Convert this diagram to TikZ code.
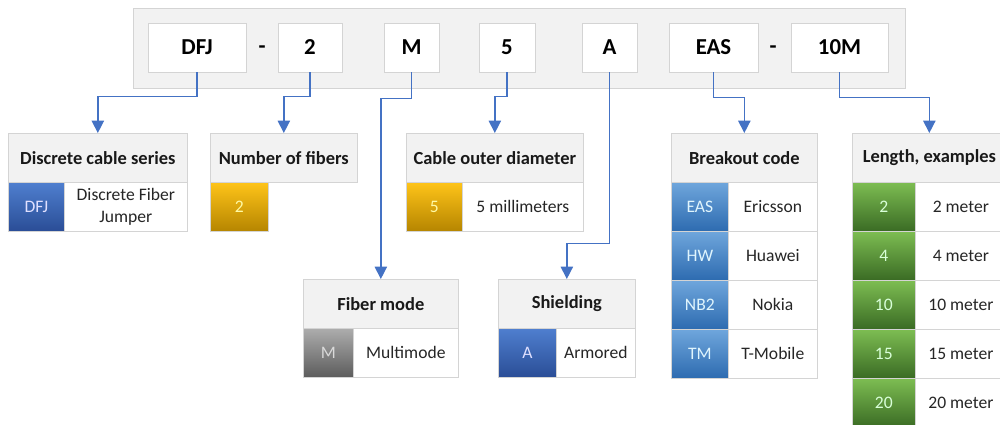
\documentclass[tikz,border=0pt]{standalone}
\usepackage{fontspec}
\setmainfont{Carlito}
\usetikzlibrary{arrows.meta}

\definecolor{linkblue}{HTML}{4472C4}
\definecolor{framegray}{HTML}{F2F2F2}
\definecolor{edgegray}{HTML}{D4D4D4}
\definecolor{bodytext}{HTML}{262626}
\definecolor{navytop}{HTML}{4F7FCF}
\definecolor{navybot}{HTML}{2A4D96}
\definecolor{goldtop}{HTML}{FFC419}
\definecolor{goldbot}{HTML}{B58500}
\definecolor{graytop}{HTML}{ADADAD}
\definecolor{graybot}{HTML}{5C5C5C}
\definecolor{skytop}{HTML}{6FA6DC}
\definecolor{skybot}{HTML}{2D6BB0}
\definecolor{greentop}{HTML}{7DBD52}
\definecolor{greenbot}{HTML}{3A6B24}

\tikzset{
  frame/.style={rectangle,draw=edgegray,fill=framegray,anchor=north west,minimum width=15.44cm,minimum height=1.6cm,inner sep=0pt},
  codebox/.style={rectangle,draw=edgegray,fill=white,font=\fontsize{13}{15}\selectfont\bfseries,minimum height=0.98cm,inner sep=0pt},
  sepmark/.style={anchor=base,font=\fontsize{13}{15}\selectfont\bfseries,inner sep=0pt},
  headbox/.style={rectangle,draw=edgegray,fill=framegray,anchor=north west,font=\fontsize{10.5}{12}\selectfont\bfseries,text=black!90,minimum height=0.98cm,inner sep=0pt},
  cellbox/.style={rectangle,draw=edgegray,fill=white,anchor=north west,font=\fontsize{10}{12.5}\selectfont,text=bodytext,align=center,minimum height=0.98cm,inner sep=0pt},
  tagbox/.style={rectangle,draw=edgegray,anchor=north west,font=\fontsize{10}{12}\selectfont,minimum height=0.98cm,inner sep=0pt},
  tagnavy/.style={tagbox,top color=navytop,bottom color=navybot,text=blue!12!white},
  taggold/.style={tagbox,top color=goldtop,bottom color=goldbot,text=yellow!35!white},
  taggray/.style={tagbox,top color=graytop,bottom color=graybot,text=black!15},
  tagsky/.style={tagbox,top color=skytop,bottom color=skybot,text=cyan!12!white},
  taggreen/.style={tagbox,top color=greentop,bottom color=greenbot,text=green!15!white},
  link/.style={draw=linkblue,line width=0.8pt,-{Triangle[width=7pt,length=7pt]}}
}

\begin{document}
\begin{tikzpicture}[x=0.02cm,y=-0.02cm]
\useasboundingbox (0,0) rectangle (1000,425);

% code line
\node[frame] (frame) at (133,8) {};
\node[codebox,minimum width=1.96cm] (dfj) at (197,47.5) {DFJ};
\node[sepmark] (dash1) at (262,54) {-};
\node[codebox,minimum width=1.28cm] (fib) at (310,47.5) {2};
\node[codebox,minimum width=1.1cm] (mode) at (411.5,47.5) {M};
\node[codebox,minimum width=1.12cm] (dia) at (507,47.5) {5};
\node[codebox,minimum width=1.1cm] (shld) at (609.5,47.5) {A};
\node[codebox,minimum width=1.78cm] (brk) at (713.5,47.5) {EAS};
\node[sepmark] (dash2) at (773,54) {-};
\node[codebox,minimum width=1.94cm] (len) at (839.5,47.5) {10M};

% series
\node[headbox,minimum width=3.58cm] (serieshead) at (8,133) {Discrete cable series};
\node[tagnavy,minimum width=1.12cm] (seriestag) at (8,182) {DFJ};
\node[cellbox,minimum width=2.46cm] (seriestext) at (64,182) {Discrete Fiber\\Jumper};

% fibers
\node[headbox,minimum width=2.94cm] (fibhead) at (210,133) {Number of fibers};
\node[taggold,minimum width=1.16cm] (fibtag) at (210,182) {2};

% diameter
\node[headbox,minimum width=3.54cm] (diahead) at (406,133) {Cable outer diameter};
\node[taggold,minimum width=1.12cm] (diatag) at (406,182) {5};
\node[cellbox,minimum width=2.42cm] (diatext) at (462,182) {5 millimeters};

% fiber mode
\node[headbox,minimum width=3.1cm] (modehead) at (303,279) {Fiber mode};
\node[taggray,minimum width=1.0cm] (modetag) at (303,328) {M};
\node[cellbox,minimum width=2.1cm] (modetext) at (353,328) {Multimode};

% shielding
\node[headbox,minimum width=2.74cm] (shldhead) at (498,279) {Shielding};
\node[tagnavy,minimum width=1.16cm] (shldtag) at (498,328) {A};
\node[cellbox,minimum width=1.58cm] (shldtext) at (556,328) {Armored};

% breakout
\node[headbox,minimum width=2.92cm] (brkhead) at (671,133) {Breakout code};
\node[tagsky,minimum width=1.14cm] (brktag1) at (671,182) {EAS};
\node[cellbox,minimum width=1.78cm] (brktext1) at (728,182) {Ericsson};
\node[tagsky,minimum width=1.14cm] (brktag2) at (671,231) {HW};
\node[cellbox,minimum width=1.78cm] (brktext2) at (728,231) {Huawei};
\node[tagsky,minimum width=1.14cm] (brktag3) at (671,280) {NB2};
\node[cellbox,minimum width=1.78cm] (brktext3) at (728,280) {Nokia};
\node[tagsky,minimum width=1.14cm] (brktag4) at (671,329) {TM};
\node[cellbox,minimum width=1.78cm] (brktext4) at (728,329) {T-Mobile};

% length
\node[headbox,minimum width=3.08cm] (lenhead) at (852,133) {Length, examples};
\node[taggreen,minimum width=1.26cm] (lentag1) at (852,182) {2};
\node[cellbox,minimum width=1.82cm] (lentext1) at (915,182) {2 meter};
\node[taggreen,minimum width=1.26cm] (lentag2) at (852,231) {4};
\node[cellbox,minimum width=1.82cm] (lentext2) at (915,231) {4 meter};
\node[taggreen,minimum width=1.26cm] (lentag3) at (852,280) {10};
\node[cellbox,minimum width=1.82cm] (lentext3) at (915,280) {10 meter};
\node[taggreen,minimum width=1.26cm] (lentag4) at (852,329) {15};
\node[cellbox,minimum width=1.82cm] (lentext4) at (915,329) {15 meter};
\node[taggreen,minimum width=1.26cm] (lentag5) at (852,378) {20};
\node[cellbox,minimum width=1.82cm] (lentext5) at (915,378) {20 meter};

% links
\draw[link] (dfj.south) -- ++(0,24) -| (serieshead.north);
\draw[link] (fib.south) -- ++(0,24) -| (fibhead.north);
\draw[link] (mode.south) -- ++(0,26) -| (modehead.north);
\draw[link] (dia.south) -- ++(0,24) -| (diahead.north);
\draw[link] (shld.south) -- ++(0,171) -| (shldhead.north);
\draw[link] (brk.south) -- ++(0,25) -| (brkhead.north);
\draw[link] (len.south) -- ++(0,25) -| (lenhead.north);

\end{tikzpicture}
\end{document}
